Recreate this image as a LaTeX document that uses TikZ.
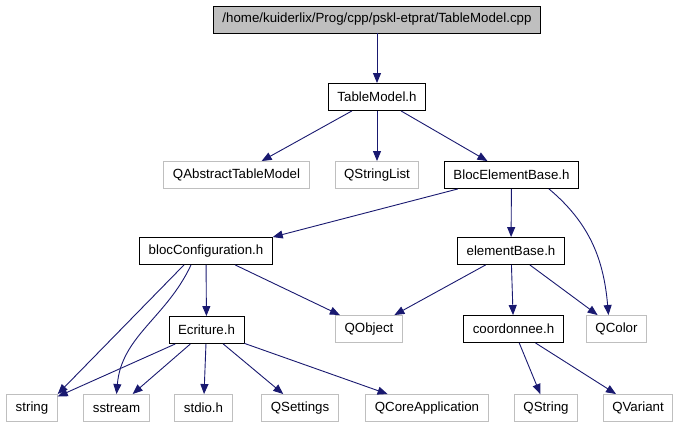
\documentclass[tikz,border=0pt]{standalone}
\usepackage{fontspec}
\setmainfont{Liberation Sans}
\usetikzlibrary{arrows.meta}
\definecolor{EdgeBlue}{RGB}{25,25,112}
\definecolor{RootGray}{RGB}{191,191,191}
\definecolor{ExtGray}{RGB}{191,191,191}

\begin{document}
\begin{tikzpicture}[
    x=1pt, y=-1pt,
    file/.style={draw=black, line width=0.9pt, inner xsep=9pt, inner ysep=0pt,
                 minimum height=27pt, font=\fontsize{13.3}{16}\selectfont},
    ext/.style={file, draw=ExtGray},
    root/.style={file, fill=RootGray},
    dep/.style={-{Triangle[length=10pt, width=8pt]}, draw=EdgeBlue, line width=0.9pt}
]
    \useasboundingbox (0,0) rectangle (680,427);
    % rank 0 and 1
    \node[root] (cpp) at (377,19.5) {/home/kuiderlix/Prog/cpp/pskl-etprat/TableModel.cpp};
    \node[file] (tablemodel) at (377,97) {TableModel.h};
    % rank 2
    \node[ext]  (qabstract) at (236.5,175) {QAbstractTableModel};
    \node[ext]  (qstringlist) at (377,175) {QStringList};
    \node[file] (blocbase) at (511.5,175) {BlocElementBase.h};
    % rank 3
    \node[file] (blocconf) at (206,251) {blocConfiguration.h};
    \node[file] (elembase) at (511,251) {elementBase.h};
    % rank 4
    \node[file] (ecriture) at (206.5,330) {Ecriture.h};
    \node[ext]  (qobject) at (369,329) {QObject};
    \node[file] (coord) at (513.5,329) {coordonnee.h};
    \node[ext]  (qcolor) at (616.5,329) {QColor};
    % rank 5
    \node[ext]  (string) at (32,408) {string};
    \node[ext]  (sstream) at (116.5,408) {sstream};
    \node[ext]  (stdio) at (203.5,408) {stdio.h};
    \node[ext]  (qsettings) at (300,408) {QSettings};
    \node[ext]  (qcoreapp) at (427,408) {QCoreApplication};
    \node[ext]  (qstring) at (546,408) {QString};
    \node[ext]  (qvariant) at (638,408) {QVariant};

    \draw[dep] (cpp) -- (tablemodel);
    \draw[dep] (tablemodel) -- (qabstract);
    \draw[dep] (tablemodel) -- (qstringlist);
    \draw[dep] (tablemodel) -- (blocbase);
    \draw[dep] (blocbase) -- (blocconf.north east);
    \draw[dep] (blocbase) -- (elembase);
    \draw[dep] (blocbase.south east) ++(-30,0) coordinate (bc) (bc) to[out=-40, in=95] ([xshift=-8pt]qcolor.north);
    \draw[dep] (blocconf.south) ++(-22,0) coordinate (cs) (cs) -- (string.north east);
    \draw[dep] (blocconf.south) ++(-15,0) coordinate (cq) (cq) to[out=-115, in=85] (sstream.north);
    \draw[dep] (blocconf) -- (ecriture);
    \draw[dep] (blocconf) -- (qobject);
    \draw[dep] (elembase) -- (qobject);
    \draw[dep] (elembase) -- (coord);
    \draw[dep] (elembase) -- (qcolor);
    \draw[dep] (ecriture) -- (string);
    \draw[dep] (ecriture) -- (sstream);
    \draw[dep] (ecriture) -- (stdio);
    \draw[dep] (ecriture) -- (qsettings);
    \draw[dep] (ecriture) -- (qcoreapp);
    \draw[dep] (coord) -- (qstring);
    \draw[dep] (coord) -- (qvariant);
\end{tikzpicture}
\end{document}
